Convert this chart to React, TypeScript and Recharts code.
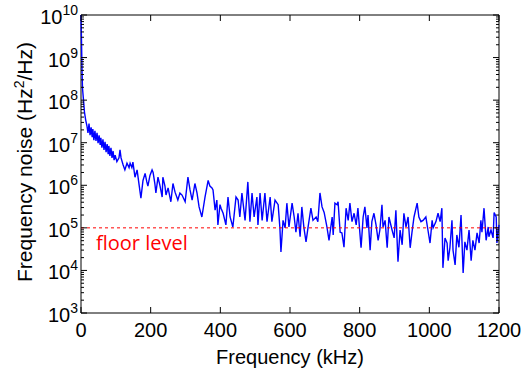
import { LineChart, Line, XAxis, YAxis, ReferenceLine, ReferenceArea } from "recharts";

// frequency (kHz) of each sample
const freqKHz = [
  0, 1.4, 2.9, 4.3, 7.2, 10, 13.5, 17, 20, 23,
  26, 29, 32, 34, 37, 40, 43, 46, 49, 52,
  55, 57, 60, 63, 66, 69, 72, 75, 78, 80,
  83, 86, 89, 92, 95, 98, 103, 109, 112, 115,
  121, 126, 132, 138, 141, 146, 149, 155, 161, 167,
  172, 178, 184, 189, 192, 198, 204, 207, 212, 215,
  221, 227, 233, 235, 241, 244, 250, 258, 264, 270,
  278, 284, 290, 299, 307, 313, 319, 327, 333, 339,
  347, 356, 365, 370, 376, 379, 385, 390, 393, 399,
  402, 408, 416, 422, 428, 436, 445, 451, 456, 462,
  471, 479, 485, 491, 497, 505, 508, 514, 520, 528,
  534, 543, 548, 557, 566, 571, 574, 580, 586, 591,
  597, 606, 612, 617, 623, 629, 634, 640, 646, 652,
  660, 666, 675, 680, 686, 692, 698, 706, 712, 721,
  724, 729, 735, 738, 744, 749, 755, 761, 767, 772,
  778, 784, 790, 795, 804, 810, 815, 821, 824, 830,
  835, 841, 847, 853, 858, 864, 867, 873, 879, 884,
  893, 899, 904, 910, 916, 922, 927, 933, 939, 945,
  950, 956, 965, 970, 976, 982, 990, 996, 1002, 1008,
  1011, 1019, 1025, 1031, 1036, 1039, 1045, 1051, 1054, 1059,
  1065, 1068, 1074, 1079, 1085, 1091, 1097, 1102, 1108, 1114,
  1120, 1125, 1131, 1137, 1143, 1148, 1151, 1157, 1163, 1169,
  1171, 1177, 1183, 1186, 1192, 1194, 1200,
];

// frequency noise (Hz^2/Hz)
const noise = [
  1e10, 2.6e9, 5.1e8, 1.9e8, 1e8, 5.2e7, 3.4e7, 2.5e7, 1.7e7, 2.8e7,
  1.5e7, 2.3e7, 1.35e7, 2.1e7, 1.15e7, 1.9e7, 1.1e7, 1.7e7, 9.8e6, 1.5e7,
  8.9e6, 1.3e7, 7.6e6, 1.2e7, 6.8e6, 1.05e7, 6.0e6, 9.3e6, 5.4e6, 8.4e6,
  4.9e6, 7.6e6, 4.4e6, 6.4e6, 3.9e6, 5.1e6, 3.6e6, 4.4e6, 6.8e6, 4.4e6,
  3.0e6, 2.3e6, 3.3e6, 2.6e6, 3.3e6, 2.6e6, 3.5e6, 1.55e6, 2.3e6, 1.0e6,
  5.0e5, 1.3e6, 1.9e6, 1.2e6, 9.6e5, 1.7e6, 2.3e6, 2.0e6, 1.1e6, 6.6e5,
  1.55e6, 9.6e5, 5.3e5, 1.55e6, 9.6e5, 5.9e5, 8.7e5, 4.1e5, 1.1e6, 6.9e5,
  4.5e5, 6.6e5, 5.9e5, 4.1e5, 1.55e6, 7.8e5, 4.5e5, 1.1e6, 6.6e5, 3.1e5,
  1.8e5, 5.3e5, 1.3e6, 9.6e5, 8.7e5, 7.8e5, 2.6e5, 4.5e5, 1.17e5, 3.5e5,
  2.9e5, 2.2e5, 1.17e5, 5.3e5, 1.8e5, 1.05e5, 5.3e5, 4.5e5, 1.8e5, 6.6e5,
  1.5e5, 1.2e6, 1.4e5, 6.6e5, 1.8e5, 5.3e5, 1.17e5, 6.6e5, 1.5e5, 6.6e5,
  1.4e5, 5.3e5, 1.4e5, 4.5e5, 3.5e5, 1.0e5, 2.7e4, 1.5e5, 1.0e5, 3.8e5,
  1.05e5, 3.8e5, 1.8e5, 7.9e4, 2.2e5, 6.2e4, 3.1e5, 1.0e5, 4.7e4, 1.05e5,
  2.9e5, 1.5e5, 1.8e5, 1.4e5, 6.6e5, 3.1e5, 2.3e5, 1.05e5, 5.1e4, 1.8e5,
  6.8e4, 3.8e5, 3.5e5, 4.1e5, 7.9e4, 7.6e4, 3.5e4, 2.9e5, 1.5e5, 3.8e5,
  1.4e5, 2.2e5, 1.17e5, 2.9e5, 3.4e4, 1.8e5, 3.1e5, 1.0e5, 2.0e5, 3.0e4,
  1.4e5, 2.2e5, 1.17e5, 5.1e4, 8.9e4, 3.5e5, 1.05e5, 1.5e5, 3.4e4, 1.8e5,
  8.9e4, 5.8e4, 2.6e5, 1.6e4, 8.9e4, 4.0e4, 2.2e5, 1.05e5, 1.8e5, 3.4e4,
  7.6e4, 1.8e5, 3.8e5, 1.8e5, 1.4e5, 1.5e5, 1.8e5, 8.9e4, 4.4e4, 1.5e5,
  1.0e5, 1.4e5, 2.2e5, 1.4e5, 2.9e5, 1.15e4, 5.8e4, 4.4e4, 1.7e4, 3.4e4,
  1.5e5, 3.0e4, 1.35e4, 6.8e4, 3.5e4, 2.0e5, 8.7e3, 4.7e4, 3.0e4, 8.9e4,
  1.7e4, 5.1e4, 3.0e4, 7.6e4, 4.4e4, 1.5e5, 7.9e4, 2.9e5, 5.1e4, 1.05e5,
  6.2e4, 8.9e4, 5.8e4, 2.3e5, 1.8e5, 4.4e4, 1.17e5,
];

const xTicks = [0, 200, 400, 600, 800, 1000, 1200];
const yDecades = [3, 4, 5, 6, 7, 8, 9, 10];
const floorLevel = 1e5;

const data = freqKHz.map((f, i) => ({ f, v: noise[i] }));

// log axis: every decade plus the 2..9 minor ticks between them
const majors = yDecades.map((d) => 10 ** d);
const yTicks: number[] = [];
yDecades.forEach((d, i) => {
  yTicks.push(10 ** d);
  if (i < yDecades.length - 1) {
    for (let m = 2; m <= 9; m++) yTicks.push(m * 10 ** d);
  }
});

const W = 521;
const H = 378;
const margin = { top: 15, right: 22, bottom: 0, left: 0 };
const yAxisW = 81;
const xAxisH = 65;
const plot = {
  left: margin.left + yAxisW,
  right: W - margin.right,
  top: margin.top,
  bottom: H - margin.bottom - xAxisH,
};
const font = "'Liberation Sans', Arial, sans-serif";

const YTick = (props: any) => {
  const { y, payload } = props;
  const idx = majors.indexOf(payload.value);
  const len = idx >= 0 ? 6 : 3;
  return (
    <g>
      <line x1={plot.left} x2={plot.left + len} y1={y} y2={y} stroke="#000" />
      <line x1={plot.right} x2={plot.right - len} y1={y} y2={y} stroke="#000" />
      {idx >= 0 && (
        <text x={plot.left - 3} y={y} textAnchor="end" fontFamily={font} fill="#000">
          <tspan dy={9} fontSize={20}>10</tspan>
          <tspan dy={-9} fontSize={14}>{yDecades[idx]}</tspan>
        </text>
      )}
    </g>
  );
};

const XTick = (props: any) => {
  const { x, payload } = props;
  return (
    <g>
      <line x1={x} x2={x} y1={plot.bottom} y2={plot.bottom - 6} stroke="#000" />
      <line x1={x} x2={x} y1={plot.top} y2={plot.top + 6} stroke="#000" />
      <text x={x} y={plot.bottom + 24} textAnchor="middle" fontSize={20} fontFamily={font} fill="#000">
        {payload.value}
      </text>
    </g>
  );
};

const YLabel = () => (
  <text
    x={32}
    y={162}
    transform="rotate(-90 32 162)"
    textAnchor="middle"
    fontSize={21}
    fontFamily={font}
    fill="#000"
  >
    Frequency noise (Hz<tspan dy={-8} fontSize={14}>2</tspan>
    <tspan dy={8}>/Hz)</tspan>
  </text>
);

const FloorLabel = (p: any) => {
  const vb = p.viewBox || {};
  return (
    <text
      x={(vb.x ?? plot.left) + 15}
      y={(vb.y ?? 228) + 22}
      fontSize={20}
      fontFamily="'Open Sans', sans-serif"
      fill="#ff0000"
    >
      floor level
    </text>
  );
};

export default function App() {
  return (
    <div style={{ position: "absolute", left: 0, top: 0, background: "#fff" }}>
      <LineChart width={W} height={H} data={data} margin={margin}>
        <XAxis
          dataKey="f"
          type="number"
          domain={[0, 1200]}
          ticks={xTicks}
          interval={0}
          height={xAxisH}
          tick={<XTick />}
          tickLine={false}
          axisLine={false}
          label={{ value: "Frequency (kHz)", position: "insideBottom", offset: 14, fontSize: 20, fill: "#000", fontFamily: font }}
        />
        <YAxis
          type="number"
          scale="log"
          domain={[1e3, 1e10]}
          allowDataOverflow
          ticks={yTicks}
          interval={0}
          width={yAxisW}
          tick={<YTick />}
          tickLine={false}
          axisLine={false}
          label={<YLabel />}
        />
        <ReferenceArea x1={0} x2={1200} y1={1e3} y2={1e10} fill="none" stroke="#000" strokeWidth={1} ifOverflow="visible" />
        <Line
          dataKey="v"
          stroke="#0000ff"
          strokeWidth={1.4}
          dot={false}
          isAnimationActive={false}
        />
        <ReferenceLine y={floorLevel} stroke="#ff0000" strokeDasharray="3 3" label={<FloorLabel />} />
      </LineChart>
    </div>
  );
}
